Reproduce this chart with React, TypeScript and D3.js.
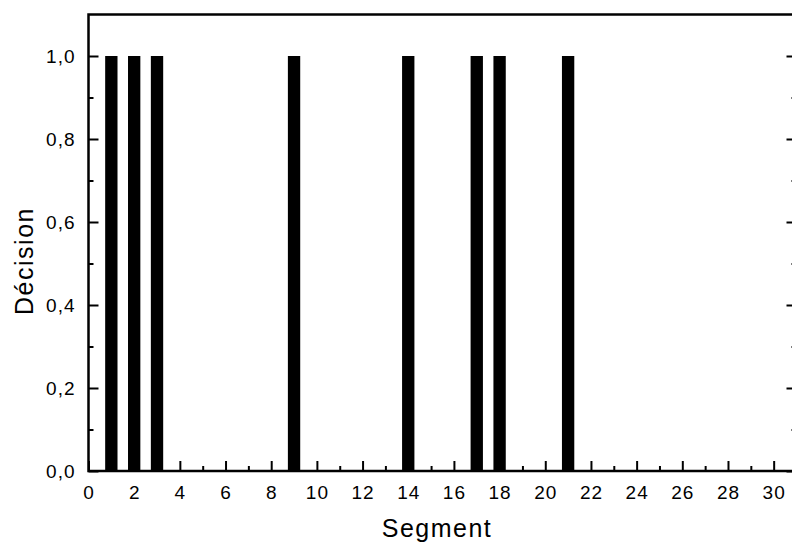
import React, { useEffect, useRef } from 'react';
import * as d3 from 'd3';

const segments = [1, 2, 3, 4, 5, 6, 7, 8, 9, 10, 11, 12, 13, 14, 15, 16, 17, 18, 19, 20, 21, 22, 23, 24, 25, 26, 27, 28, 29, 30];
const decisions = [1, 1, 1, 0, 0, 0, 0, 0, 1, 0, 0, 0, 0, 1, 0, 0, 1, 1, 0, 0, 1, 0, 0, 0, 0, 0, 0, 0, 0, 0];
const xMajorTicks = [0, 2, 4, 6, 8, 10, 12, 14, 16, 18, 20, 22, 24, 26, 28, 30];
const xMinorTicks = [1, 3, 5, 7, 9, 11, 13, 15, 17, 19, 21, 23, 25, 27, 29];
const yMajorTicks = [0, 0.2, 0.4, 0.6, 0.8, 1.0];
const yMinorTicks = [0.1, 0.3, 0.5, 0.7, 0.9];

const W = 792;
const H = 544;
const FONT = '"Liberation Sans", Arial, sans-serif';

const App = () => {
    const svgRef = useRef<SVGSVGElement>(null);

    useEffect(() => {
        const svg = d3.select(svgRef.current);
        svg.selectAll('*').remove();

        const left = 88.5, right = 796.5, top = 14.5, bottom = 471;

        const x = d3.scaleLinear().domain([0, 31]).range([left, right]);
        const y = d3.scaleLinear().domain([0, 1.1]).range([bottom, top]);

        const barW = x(0.54) - x(0);
        const data = segments.map((s, i) => ({ s, v: decisions[i] }));

        // bars
        svg.append('g')
            .selectAll('rect')
            .data(data.filter(d => d.v > 0))
            .enter()
            .append('rect')
            .attr('x', d => x(d.s) - barW / 2)
            .attr('y', d => y(d.v))
            .attr('width', barW)
            .attr('height', d => y(0) - y(d.v))
            .attr('fill', 'black');

        // bottom axis, ticks inward
        const gx = svg.append('g').attr('transform', `translate(0,${bottom})`);
        gx.call(d3.axisBottom(x).tickValues(xMajorTicks).tickSize(-10).tickPadding(15).tickFormat(d3.format('d')));
        gx.selectAll('.tick line').attr('stroke-width', 2);
        gx.select('.domain').remove();
        gx.append('g')
            .call(d3.axisBottom(x).tickValues(xMinorTicks).tickSize(-5).tickFormat(() => ''))
            .call(g => g.select('.domain').remove())
            .selectAll('.tick line').attr('stroke-width', 2);

        // left axis, ticks inward
        const gy = svg.append('g').attr('transform', `translate(${left},0)`);
        gy.call(d3.axisLeft(y).tickValues(yMajorTicks).tickSize(-10).tickPadding(13)
            .tickFormat(d => d3.format('.1f')(d as number).replace('.', ',')));
        gy.selectAll('.tick line').attr('stroke-width', 2);
        gy.select('.domain').remove();
        gy.append('g')
            .call(d3.axisLeft(y).tickValues(yMinorTicks).tickSize(-5).tickFormat(() => ''))
            .call(g => g.select('.domain').remove())
            .selectAll('.tick line').attr('stroke-width', 2);

        // right axis, ticks inward, no labels
        const gr = svg.append('g').attr('transform', `translate(${right},0)`);
        gr.call(d3.axisRight(y).tickValues(yMajorTicks).tickSize(-10).tickFormat(() => ''));
        gr.select('.domain').remove();
        gr.append('g')
            .call(d3.axisRight(y).tickValues(yMinorTicks).tickSize(-5).tickFormat(() => ''))
            .call(g => g.select('.domain').remove());
        gr.selectAll('.tick line').attr('stroke-width', 2);

        svg.selectAll('.tick text')
            .attr('font-family', FONT)
            .attr('font-size', 19)
            .attr('letter-spacing', 1)
            .attr('fill', 'black');

        // frame
        svg.append('rect')
            .attr('x', left)
            .attr('y', top)
            .attr('width', right - left)
            .attr('height', bottom - top)
            .attr('fill', 'none')
            .attr('stroke', 'black')
            .attr('stroke-width', 2.5);

        // titles
        svg.append('text')
            .attr('x', 437)
            .attr('y', 537)
            .attr('text-anchor', 'middle')
            .attr('font-family', FONT)
            .attr('font-size', 25)
            .attr('letter-spacing', 1.5)
            .text('Segment');

        svg.append('text')
            .attr('transform', `translate(33,261) rotate(-90)`)
            .attr('text-anchor', 'middle')
            .attr('font-family', FONT)
            .attr('font-size', 25)
            .attr('letter-spacing', 1.5)
            .text('Décision');
    }, []);

    return (
        <svg
            ref={svgRef}
            width={W}
            height={H}
            style={{ position: 'absolute', left: 0, top: 0, background: 'white', overflow: 'hidden' }}
        />
    );
};

export default App;
